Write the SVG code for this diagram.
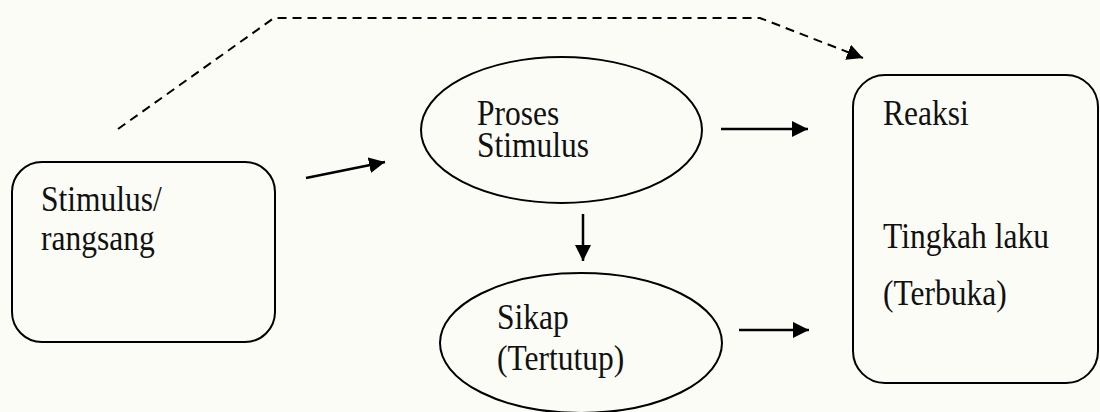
<svg xmlns="http://www.w3.org/2000/svg" width="1100" height="412" viewBox="0 0 1100 412">
  <style>
    .shape { fill: none; stroke: #000; stroke-width: 2; }
    .lbl { font-family: "Liberation Serif", "Times New Roman", serif; font-size: 31.5px; fill: #111; }
    .conn { stroke: #000; stroke-width: 2.5; fill: none; }
    .dash { stroke: #000; stroke-width: 2; fill: none; stroke-dasharray: 9 6; }
  </style>
  <defs>
    <marker id="ah" viewBox="0 0 10 10" refX="10" refY="5" markerWidth="16" markerHeight="16" markerUnits="userSpaceOnUse" orient="auto">
      <path d="M0,0 L10,5 L0,10 z" fill="#000"/>
    </marker>
  </defs>
  <rect width="1100" height="412" fill="#fcfcf7"/>

  <g id="stimulus">
    <rect class="shape" x="12" y="162" width="263" height="180" rx="30" ry="30"/>
    <text class="lbl" transform="translate(41,211) scale(1,1.12)">Stimulus/</text>
    <text class="lbl" transform="translate(41,250) scale(1,1.12)">rangsang</text>
  </g>

  <g id="proses">
    <ellipse class="shape" cx="561.5" cy="130" rx="140.5" ry="73"/>
    <text class="lbl" transform="translate(477,125) scale(1,1.12)">Proses</text>
    <text class="lbl" transform="translate(477,157) scale(1,1.12)">Stimulus</text>
  </g>

  <g id="sikap">
    <ellipse class="shape" cx="581" cy="343" rx="141" ry="70"/>
    <text class="lbl" transform="translate(497,329) scale(1,1.12)">Sikap</text>
    <text class="lbl" transform="translate(497,370) scale(1,1.12)">(Tertutup)</text>
  </g>

  <g id="reaksi">
    <rect class="shape" x="853" y="75" width="245" height="308" rx="32" ry="32"/>
    <text class="lbl" transform="translate(883,125) scale(1,1.12)">Reaksi</text>
    <text class="lbl" transform="translate(883,248) scale(1,1.12)">Tingkah laku</text>
    <text class="lbl" transform="translate(883,305) scale(1,1.12)">(Terbuka)</text>
  </g>

  <g id="connectors">
    <line class="conn" x1="306" y1="178" x2="385" y2="162" marker-end="url(#ah)"/>
    <line class="conn" x1="721" y1="129" x2="808" y2="129" marker-end="url(#ah)"/>
    <line class="conn" x1="583" y1="214" x2="583" y2="261" marker-end="url(#ah)"/>
    <line class="conn" x1="739" y1="330" x2="809" y2="330" marker-end="url(#ah)"/>
    <polyline class="dash" points="118,129 274,18 760,18 863,58" marker-end="url(#ah)"/>
  </g>
</svg>
